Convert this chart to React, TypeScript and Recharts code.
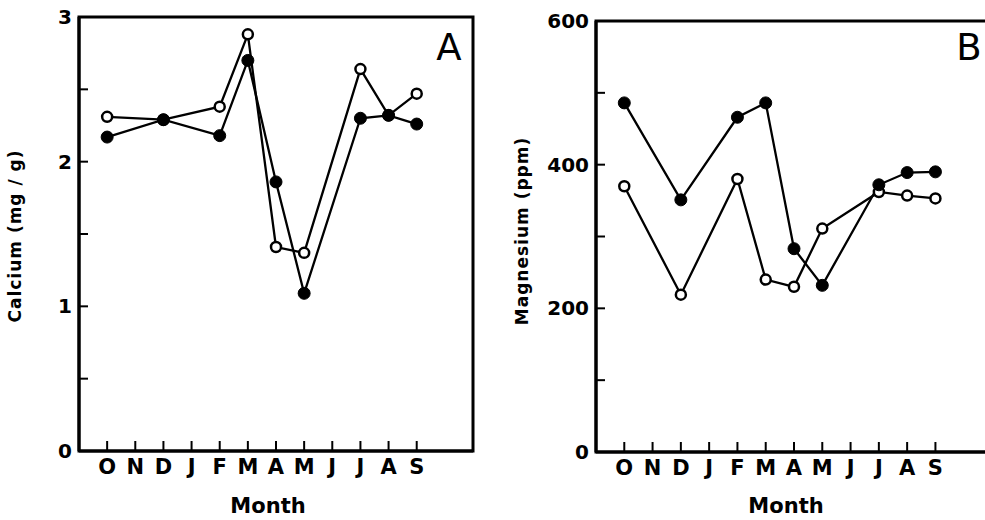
import React from "react"
import { LineChart, Line, XAxis, YAxis, ReferenceArea } from "recharts"

// month letters on the x axis, Oct .. Sep
const months = ["O", "N", "D", "J", "F", "M", "A", "M", "J", "J", "A", "S"]
const monthTicks = [0, 1, 2, 3, 4, 5, 6, 7, 8, 9, 10, 11]
// months that were sampled (index into months)
const sampled = [0, 2, 4, 5, 6, 7, 9, 10, 11]

// panel A, calcium (mg / g)
const calciumOpen = [2.31, 2.29, 2.38, 2.88, 1.41, 1.37, 2.64, 2.32, 2.47]
const calciumFilled = [2.17, 2.29, 2.18, 2.7, 1.86, 1.09, 2.3, 2.32, 2.26]
const calciumTicks = [0, 0.5, 1, 1.5, 2, 2.5, 3]

// panel B, magnesium (ppm)
const magnesiumOpen = [370, 219, 380, 240, 230, 311, 362, 357, 353]
const magnesiumFilled = [486, 351, 466, 486, 283, 232, 372, 389, 390]
const magnesiumTicks = [0, 100, 200, 300, 400, 500, 600]

const calciumData = sampled.map((m, i) => ({ m, open: calciumOpen[i], filled: calciumFilled[i] }))
const magnesiumData = sampled.map((m, i) => ({ m, open: magnesiumOpen[i], filled: magnesiumFilled[i] }))

const font = "'DejaVu Sans', sans-serif"
const tickStyle = { fill: "#000", fontSize: 20, fontWeight: 700, fontFamily: font }
const monthTickStyle = { fill: "#000", fontSize: 21, fontWeight: 700, fontFamily: font }
const axisLine = { stroke: "#000", strokeWidth: 3 }
const tickLine = { stroke: "#000", strokeWidth: 2 }
const openDot = { r: 5, fill: "#fff", stroke: "#000", strokeWidth: 2.5 }
const filledDot = { r: 6, fill: "#000", stroke: "#000", strokeWidth: 1 }

function Panel({
  data,
  domainMax,
  ticks,
  labelEvery,
  width,
  margin,
}: {
  data: { m: number; open: number; filled: number }[]
  domainMax: number
  ticks: number[]
  labelEvery: number
  width: number
  margin: { top: number; right: number; bottom: number; left: number }
}) {
  return (
    <LineChart width={width} height={520} data={data} margin={margin}>
      <XAxis
        type="number"
        dataKey="m"
        domain={[-1, 13]}
        ticks={monthTicks}
        interval={0}
        tickFormatter={(v: number) => months[v]}
        tickSize={-10}
        tickMargin={18}
        height={68}
        axisLine={axisLine}
        tickLine={tickLine}
        tick={monthTickStyle}
      />
      <YAxis
        type="number"
        domain={[0, domainMax]}
        ticks={ticks}
        interval={0}
        tickFormatter={(v: number) => (Math.abs(v / labelEvery - Math.round(v / labelEvery)) < 1e-6 ? String(v) : "")}
        tickSize={-9}
        tickMargin={16}
        width={50}
        axisLine={axisLine}
        tickLine={tickLine}
        tick={tickStyle}
      />
      <ReferenceArea x1={-1} x2={13} y1={0} y2={domainMax} fill="none" stroke="#000" strokeWidth={3} />
      <Line type="linear" dataKey="open" stroke="#000" strokeWidth={2.3} dot={openDot} isAnimationActive={false} />
      <Line type="linear" dataKey="filled" stroke="#000" strokeWidth={2.3} dot={filledDot} isAnimationActive={false} />
    </LineChart>
  )
}

export default function App() {
  return (
    <div
      style={{
        position: "absolute",
        left: 0,
        top: 0,
        width: 985,
        height: 520,
        overflow: "hidden",
        background: "#fff",
      }}
    >
      <div style={{ position: "absolute", left: 0, top: 0 }}>
        <Panel
          data={calciumData}
          domainMax={3}
          ticks={calciumTicks}
          labelEvery={1}
          width={490}
          margin={{ top: 17, right: 17, bottom: 1, left: 29 }}
        />
      </div>
      <div style={{ position: "absolute", left: 490, top: 0 }}>
        <Panel
          data={magnesiumData}
          domainMax={600}
          ticks={magnesiumTicks}
          labelEvery={200}
          width={510}
          margin={{ top: 21, right: 8, bottom: 0, left: 56 }}
        />
      </div>
      <svg width={985} height={520} style={{ position: "absolute", left: 0, top: 0, pointerEvents: "none" }}>
        <g fontFamily={font} fontWeight={700} fill="#000">
          <text x={15} y={236} transform="rotate(-90 15 236)" textAnchor="middle" dominantBaseline="central" fontSize={17} letterSpacing={1}>
            Calcium (mg / g)
          </text>
          <text x={522} y={231} transform="rotate(-90 522 231)" textAnchor="middle" dominantBaseline="central" fontSize={17} letterSpacing={1}>
            Magnesium (ppm)
          </text>
          <text x={268} y={513} textAnchor="middle" fontSize={21}>
            Month
          </text>
          <text x={786} y={513} textAnchor="middle" fontSize={21}>
            Month
          </text>
        </g>
        <g fontFamily={font} fill="#000">
          <text x={449} y={60} textAnchor="middle" fontSize={37}>
            A
          </text>
          <text x={969} y={60} textAnchor="middle" fontSize={37}>
            B
          </text>
        </g>
      </svg>
    </div>
  )
}
